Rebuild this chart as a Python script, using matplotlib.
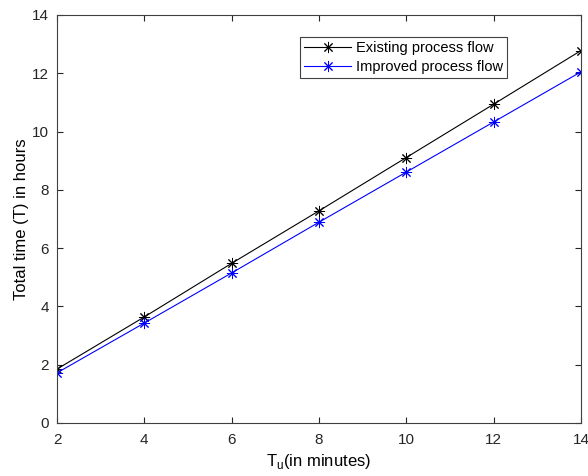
import matplotlib.pyplot as plt

plt.rcParams['font.family'] = ['Liberation Sans', 'DejaVu Sans']

tu = [2, 4, 6, 8, 10, 12, 14]
existing = [1.85, 3.64, 5.48, 7.28, 9.11, 10.94, 12.78]
improved = [1.72, 3.43, 5.15, 6.89, 8.61, 10.33, 12.05]

fig = plt.figure(figsize=(5.88, 4.76), dpi=100)
ax = fig.add_axes([57/588, 53/476, 524/588, 408/476])

# MATLAB-style asterisk: 8 spokes
ast = (8, 2, 0)
ax.plot(tu, existing, '-', marker=ast, color='black', lw=0.8, ms=8, mew=0.7, label='Existing process flow')
ax.plot(tu, improved, '-', marker=ast, color='blue', lw=0.8, ms=8, mew=0.7, label='Improved process flow')

ax.set_xlim(2, 14)
ax.set_ylim(0, 14)
ax.set_xticks(range(2, 15, 2))
ax.set_yticks(range(0, 15, 2))
ax.tick_params(direction='in', top=True, right=True, labelsize=11, colors='#262626', length=4)
ax.tick_params(axis='x', pad=7)
ax.tick_params(axis='y', pad=6)
for s in ax.spines.values():
    s.set_color('#404040')
    s.set_linewidth(0.8)

ax.set_xlabel('T$_{\\mathregular{u}}$(in minutes)', fontsize=12, labelpad=4)
ax.set_ylabel('Total time (T) in hours', fontsize=12, labelpad=2)

leg = ax.legend(loc='upper left', bbox_to_anchor=(0.45, 0.965), fontsize=10.5,
                fancybox=False, edgecolor='#404040', framealpha=1,
                handlelength=3.2, borderpad=0.3, labelspacing=0.35, handletextpad=0.3)
leg.get_frame().set_linewidth(0.8)

fig.savefig('out.png', dpi=100)
